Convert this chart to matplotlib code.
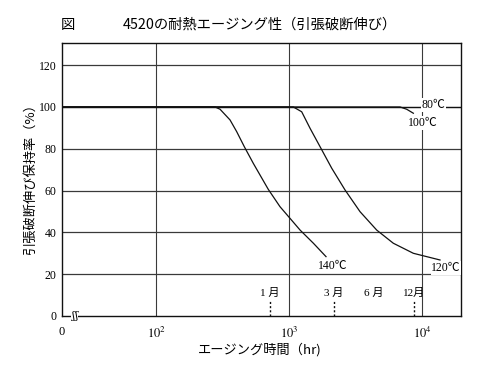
import matplotlib
matplotlib.use("Agg")
import matplotlib.pyplot as plt
import numpy as np

plt.rcParams['font.family'] = ['Noto Sans CJK JP', 'DejaVu Sans']
plt.rcParams['mathtext.fontset'] = 'stix'

# ---- data ----
h140 = [20, 278, 303, 360, 404, 461, 539, 698, 855, 1018, 1211, 1525, 1897]
r140 = [100, 100, 98.9, 93.8, 88.2, 81.0, 73.0, 60.6, 52.3, 46.7, 41.1, 34.8, 28.4]

h120 = [20, 1077, 1245, 1439, 1711, 2094, 2636, 3419, 4563, 6085, 8603, 13650]
r120 = [100, 100, 97.7, 89.8, 81.0, 70.7, 60.3, 49.9, 41.1, 34.8, 30.0, 26.8]

h100 = [20, 6840, 7670, 8603]
r100 = [100, 100, 98.9, 97.0]

h80 = [20, 19600]
r80 = [100, 100]

curve_labels = ["140℃", "120℃", "100℃", "80℃"]
label_pos_h = [2123, 15140, 10190, 12110]
label_pos_r = [24.1, 23.0, 92.3, 101.0]

month_labels = ["1 月", "3 月", "6 月", "12月"]
month_hours = [720, 2160, 4320, 8760]
month_marked = [True, True, False, True]

yticks = [0, 20, 40, 60, 80, 100, 120]
xticks = [100, 1000, 10000]
xticklabels = [r"$10^2$", r"$10^3$", r"$10^4$"]

xmin, xmax = 10 ** 1.293, 10 ** 4.293
ymin, ymax = 0, 130.6

fig = plt.figure(figsize=(5.0, 3.66), dpi=100)
ax = fig.add_axes([62 / 500, 1 - 316 / 366, (461 - 62) / 500, (316 - 43) / 366])
ax.set_xscale('log')
ax.set_xlim(xmin, xmax)
ax.set_ylim(ymin, ymax)

gc = '#3a3a3a'
for y in yticks[1:]:
    ax.axhline(y, color=gc, lw=0.9, zorder=1)
for x in xticks:
    ax.axvline(x, color=gc, lw=0.8, zorder=1)

lc = '#111111'
for h, r in [(h140, r140), (h120, r120), (h100, r100), (h80, r80)]:
    ax.plot(h, r, color=lc, lw=0.9, zorder=2)

for t, x, y in zip(curve_labels, label_pos_h, label_pos_r):
    ax.text(x, y, t, ha='center', va='center', fontsize=8.5,
            family=['Liberation Serif', 'Noto Sans CJK JP'],
            bbox=dict(facecolor='white', edgecolor='none', pad=0.5), zorder=3)

for t, x, m in zip(month_labels, month_hours, month_marked):
    ax.text(x, 11, t, ha='center', va='center', fontsize=8,
            family=['Liberation Serif', 'Noto Sans CJK JP'])
    if m:
        ax.plot([x, x], [0, 7.5], color=lc, lw=1.0, ls=(0, (1.5, 1.5)), zorder=2)

# axis break mark
ax.text(10 ** 1.39, 0, "ʃʃ", ha='center', va='center', fontsize=8,
        family=['DejaVu Serif'], clip_on=False,
        bbox=dict(facecolor='white', edgecolor='none', pad=0.3), zorder=4)

ax.set_yticks(yticks)
ax.set_yticklabels([str(v) for v in yticks], family='Liberation Serif', fontsize=8.5)
ax.set_xticks([xmin] + xticks)
ax.set_xticklabels(["0"] + xticklabels, fontsize=9)
ax.xaxis.set_minor_locator(matplotlib.ticker.NullLocator())
for lab in ax.get_xticklabels():
    lab.set_family('Liberation Serif')
ax.tick_params(axis='both', length=0, pad=4)
ax.tick_params(axis='x', pad=7)

for s in ax.spines.values():
    s.set_linewidth(1.0)
    s.set_color('#111111')

fig.text(68 / 500, 1 - 25 / 366, "図", ha='center', va='center', fontsize=10.3)
fig.text(259.5 / 500, 1 - 25 / 366, "4520の耐熱エージング性（引張破断伸び）",
         ha='center', va='center', fontsize=10.3)
fig.text(30 / 500, 1 - 176 / 366, "引張破断伸び保持率（%）", ha='center', va='center',
         rotation=90, fontsize=9.5)
fig.text(260 / 500, 1 - 350 / 366, "エージング時間（hr)", ha='center', va='center',
         fontsize=9.5)

fig.savefig("out.png", dpi=100)
